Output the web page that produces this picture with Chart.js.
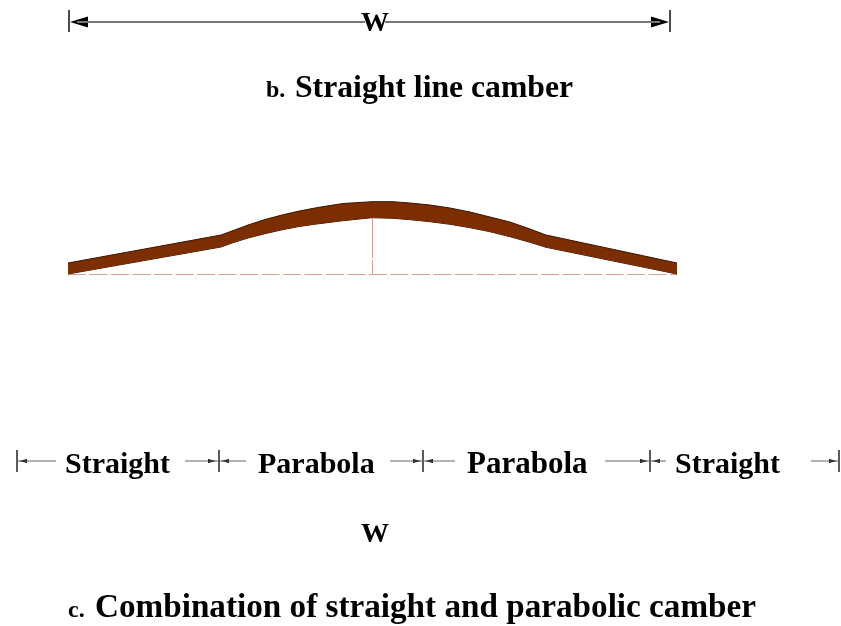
<!DOCTYPE html>
<html lang="en">
<head>
    <meta charset="UTF-8">
    <title>Straight and parabolic camber</title>
    <script src="https://cdn.jsdelivr.net/npm/chart.js"></script>
    <style>
        html, body { margin: 0; padding: 0; background: #fff; }
        canvas { display: block; }
    </style>
</head>
<body>
    <canvas id="chart" width="841" height="626"></canvas>
    <script>
        // road profile
        const deckX = [68, 221, 232, 248, 265, 282, 298, 315, 327, 343, 372, 393, 410, 430, 450, 470, 490, 510, 530, 546, 677];
        const deckTop = [263, 235, 231, 225, 219.5, 215, 211.3, 208, 206, 203.5, 201.7, 201.7, 203, 205, 208, 212, 217, 222, 229, 235, 263];
        const deckBottom = [274, 247, 243, 238, 233.7, 229.8, 226.7, 224.2, 222.7, 220.7, 217.7, 218.3, 219.7, 221.7, 224.3, 227.7, 231.7, 236.7, 242.3, 247.3, 274];

        const baseX = [68, 677];
        const baseY = [274.5, 274.5];
        const crownX = [372.5, 372.5];
        const crownY = [218, 274];
        const chordX = [220, 257, null, 510, 546];
        const chordY = [235.5, 235.5, null, 235.5, 235.5];
        const jointX = [220.5, 220.5, null, 546.5, 546.5];
        const jointY = [235, 247, null, 236, 247];

        // dimension lines, null breaks the line
        const topDimX = [77, 365, null, 385, 660];
        const topDimY = [22, 22, null, 22, 22];
        const topTickX = [69, 69, null, 670, 670];
        const topTickY = [10, 32, null, 10, 32];
        const lowDimX = [17, 56, null, 185, 218, null, 219, 246, null, 390, 423, null, 423, 455, null, 605, 650, null, 650, 666, null, 811, 839];
        const lowDimY = [461, 461, null, 461, 461, null, 461, 461, null, 461, 461, null, 461, 461, null, 461, 461, null, 461, 461, null, 461, 461];
        const lowTickX = [17, 17, null, 219, 219, null, 423, 423, null, 650, 650, null, 839, 839];
        const lowTickY = [450, 472, null, 450, 472, null, 450, 472, null, 450, 472, null, 450, 472];

        const topArrowTip = [70, 669];
        const topArrowBase = [88, 651];
        const lowArrowTip = [19, 216, 221, 421, 425, 648, 652, 837];
        const lowArrowBase = [27, 208, 229, 413, 433, 640, 660, 829];

        const labelText = ['W', 'b.', 'Straight line camber', 'Straight', 'Parabola', 'Parabola', 'Straight', 'W', 'c.', 'Combination of straight and parabolic camber'];
        const labelX = [361, 266, 295, 65, 258, 467, 675, 361, 68, 95];
        const labelY = [31, 97, 97, 473, 473, 473, 473, 542, 617, 617];
        const labelSize = [28, 24, 31.7, 30, 30, 31, 30, 28, 24, 33.2];

        function pts(xs, ys) {
            return xs.map((x, i) => ({ x: x === null ? NaN : x, y: ys[i] === null ? NaN : ys[i] }));
        }

        function lineSet(xs, ys, color, width, dash) {
            return { data: pts(xs, ys), borderColor: color, borderWidth: width, borderDash: dash || [], pointRadius: 0, showLine: true, fill: false };
        }

        function arrowSet(tip, base, y, half, color) {
            return {
                data: [{ x: tip, y: y }, { x: base, y: y - half }, { x: base, y: y + half }, { x: tip, y: y }],
                borderColor: color, backgroundColor: color, borderWidth: 0, pointRadius: 0, showLine: true, fill: 'shape'
            };
        }

        const datasets = [
            { data: pts(deckX, deckTop), borderColor: '#3a1500', borderWidth: 1, pointRadius: 0, showLine: true, backgroundColor: '#7c2e02', fill: '+1' },
            lineSet(deckX, deckBottom, '#3a1500', 1),
            lineSet(baseX, baseY, '#d3a094', 1, [18, 3.5]),
            lineSet(crownX, crownY, '#d3a094', 1, [40, 2]),
            lineSet(chordX, chordY, '#d8bc90', 1),
            lineSet(jointX, jointY, '#2a0f00', 1),
            lineSet(topDimX, topDimY, '#777', 2),
            lineSet(topTickX, topTickY, '#333', 1),
            lineSet(lowDimX, lowDimY, '#666', 1.2),
            lineSet(lowTickX, lowTickY, '#444', 1)
        ];
        topArrowTip.forEach((tip, i) => datasets.push(arrowSet(tip, topArrowBase[i], 22, 5.5, '#000')));
        lowArrowTip.forEach((tip, i) => datasets.push(arrowSet(tip, lowArrowBase[i], 461, 2, '#000')));

        // the labels go on the same scales as the marks
        const labelPlugin = {
            id: 'labels',
            afterDatasetsDraw(chart) {
                const ctx = chart.ctx;
                ctx.save();
                ctx.fillStyle = '#000';
                ctx.textBaseline = 'alphabetic';
                ctx.textAlign = 'left';
                labelText.forEach((t, i) => {
                    ctx.font = 'bold ' + labelSize[i] + 'px "Liberation Serif"';
                    ctx.fillText(t, chart.scales.x.getPixelForValue(labelX[i]), chart.scales.y.getPixelForValue(labelY[i]));
                });
                ctx.restore();
            }
        };

        new Chart(document.getElementById('chart').getContext('2d'), {
            type: 'scatter',
            data: { datasets: datasets },
            plugins: [labelPlugin],
            options: {
                responsive: false,
                animation: false,
                layout: { padding: 0 },
                elements: { line: { tension: 0 } },
                plugins: { legend: { display: false }, tooltip: { enabled: false } },
                scales: {
                    x: { type: 'linear', min: 0, max: 841, display: false },
                    y: { type: 'linear', min: 0, max: 626, reverse: true, display: false }
                }
            }
        });
    </script>
</body>
</html>
